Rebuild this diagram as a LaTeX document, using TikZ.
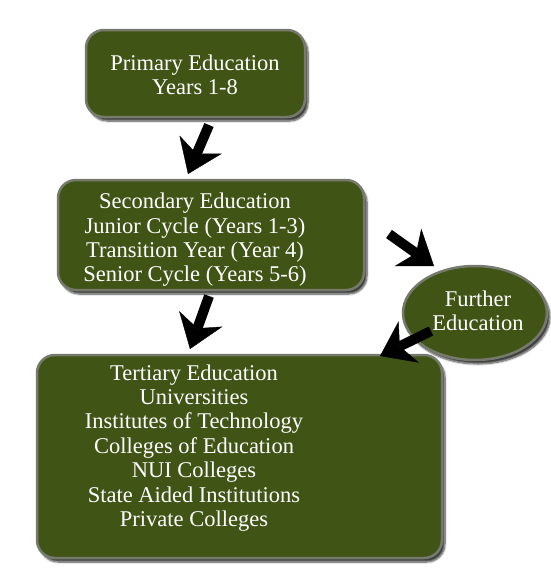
\documentclass[tikz,border=0pt]{standalone}
\usepackage{fontspec}
\setmainfont{Liberation Serif}
\usetikzlibrary{shapes.geometric,arrows.meta,shadows.blur}
\definecolor{olive}{RGB}{64,84,22}
\definecolor{bevel}{RGB}{118,122,108}
\tikzset{
  box/.style={draw=bevel, line width=2.5pt, fill=olive, rounded corners=18pt,
    blur shadow={shadow xshift=3pt, shadow yshift=-4pt, shadow blur steps=8, shadow opacity=75}},
  oval/.style={draw=bevel, line width=2.5pt, fill=olive, ellipse,
    blur shadow={shadow xshift=3pt, shadow yshift=-4pt, shadow blur steps=8, shadow opacity=75}},
  label/.style={text=white, align=center, font=\fontsize{22.5}{24.4}\selectfont, inner sep=0pt},
  bigarrow/.style={draw=black, line width=10pt, draw opacity=1, fill opacity=1,
    -{Stealth[length=32pt,width=46pt,inset=10pt,line width=0.4pt,fill=black,color=black]}}
}
\begin{document}
\begin{tikzpicture}[x=1pt,y=-1pt]
\useasboundingbox (0,0) rectangle (550,576);
% boxes
\draw[box] (86,30) rectangle (305,117);
\node[label] (t1) at (195,75) {Primary Education\\Years 1-8};
\draw[box] (58,180) rectangle (364,290);
\node[label] (t2) at (195,240) {Secondary Education\\Junior Cycle (Years 1-3)\\Transition Year (Year 4)\\Senior Cycle (Years 5-6)};
\node[oval, minimum width=144pt, minimum height=94pt, inner sep=0pt] (fe) at (475,313) {};
\node[label] (t4) at (478,311) {Further\\Education};
\draw[box] (37,355) rectangle (442,558);
\node[label] (t3) at (194,448) {Tertiary Education\\Universities\\Institutes of Technology\\Colleges of Education\\NUI Colleges\\State Aided Institutions\\Private Colleges};
% arrows
\coordinate (a1s) at (209,125); \coordinate (a1e) at (188,174);
\coordinate (a2s) at (209,296); \coordinate (a2e) at (190,349);
\coordinate (a3s) at (389,234); \coordinate (a3e) at (434,266);
\coordinate (a4s) at (431,331); \coordinate (a4e) at (380,356);
\draw[bigarrow] (a1s) -- (a1e);
\draw[bigarrow] (a2s) -- (a2e);
\draw[bigarrow] (a3s) -- (a3e);
\draw[bigarrow] (a4s) -- (a4e);
\end{tikzpicture}
\end{document}
